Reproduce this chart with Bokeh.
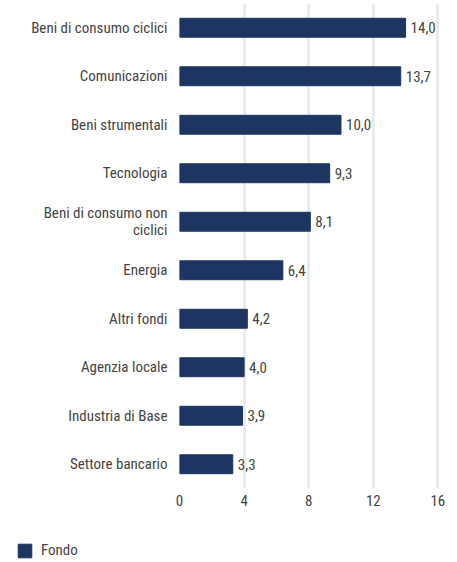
from bokeh.plotting import figure
from bokeh.layouts import column
from bokeh.models import FactorRange, ColumnDataSource, Range1d, FixedTicker
from bokeh.core.properties import value
from bokeh.embed import file_html
from bokeh.resources import INLINE

categories = ["Beni di consumo ciclici", "Comunicazioni", "Beni strumentali", "Tecnologia",
              "Beni di consumo non\nciclici", "Energia", "Altri fondi", "Agenzia locale",
              "Industria di Base", "Settore bancario"]
values = [14.0, 13.7, 10.0, 9.3, 8.1, 6.4, 4.2, 4.0, 3.9, 3.3]
value_labels = ["14,0", "13,7", "10,0", "9,3", "8,1", "6,4", "4,2", "4,0", "3,9", "3,3"]
x_ticks = [0, 4, 8, 12, 16]
series_name = "Fondo"

FONT = "Roboto Condensed, DejaVu Sans Condensed, Liberation Sans Narrow, Roboto"
TEXT = "#444444"
BAR = "#1c3661"

src = ColumnDataSource(dict(cat=categories, val=values, lab=value_labels))

p = figure(y_range=FactorRange(factors=categories[::-1], range_padding=0),
           x_range=Range1d(0, 16.1),
           frame_width=260, frame_height=485,
           min_border_left=187, min_border_top=11, min_border_right=26, min_border_bottom=42,
           output_backend="svg", toolbar_location=None)

p.hbar(y="cat", right="val", left=0, height=0.39, color=BAR, source=src)
p.text(x="val", y="cat", text="lab", source=src, x_offset=5, text_baseline="middle",
       text_align="left", text_font=value(FONT), text_font_size="15px", text_color=TEXT)

p.outline_line_color = None
p.background_fill_color = None
p.border_fill_color = None
p.ygrid.grid_line_color = None
p.xgrid.grid_line_color = "#ebebeb"
p.xgrid.grid_line_width = 3
p.xaxis.ticker = FixedTicker(ticks=x_ticks)

for ax in (p.xaxis[0], p.yaxis[0]):
    ax.axis_line_color = None
    ax.major_tick_line_color = None
    ax.minor_tick_line_color = None
    ax.major_label_text_font = FONT
    ax.major_label_text_font_size = "15px"
    ax.major_label_text_color = TEXT
p.yaxis.major_label_standoff = 6
p.yaxis.major_label_text_line_height = 0.95
p.xaxis.major_label_standoff = 0

# legend strip (same series; its bars lie outside this strip's x range)
p2 = figure(frame_width=473, frame_height=32, title=None,
            x_range=Range1d(-2, -1), y_range=FactorRange(factors=categories[::-1]),
            min_border=0, output_backend="svg", toolbar_location=None)
p2.hbar(y="cat", right="val", left=0, height=0.39, color=BAR, source=src,
        legend_label=series_name)
p2.axis.visible = False
p2.grid.visible = False
p2.outline_line_color = None
p2.background_fill_color = None
p2.border_fill_color = None
lg = p2.legend[0]
lg.location = (24, 3)
lg.glyph_width = 17
lg.glyph_height = 17
lg.label_height = 17
lg.padding = 0
lg.margin = 0
lg.label_standoff = 8
lg.border_line_color = None
lg.background_fill_alpha = 0
lg.label_text_font = FONT
lg.label_text_font_size = "15px"
lg.label_text_color = TEXT

layout = column(p, p2, spacing=0)
layout.styles = {"margin-top": "-8px", "margin-left": "-8px"}

open("out.html", "w").write(file_html(layout, INLINE))
